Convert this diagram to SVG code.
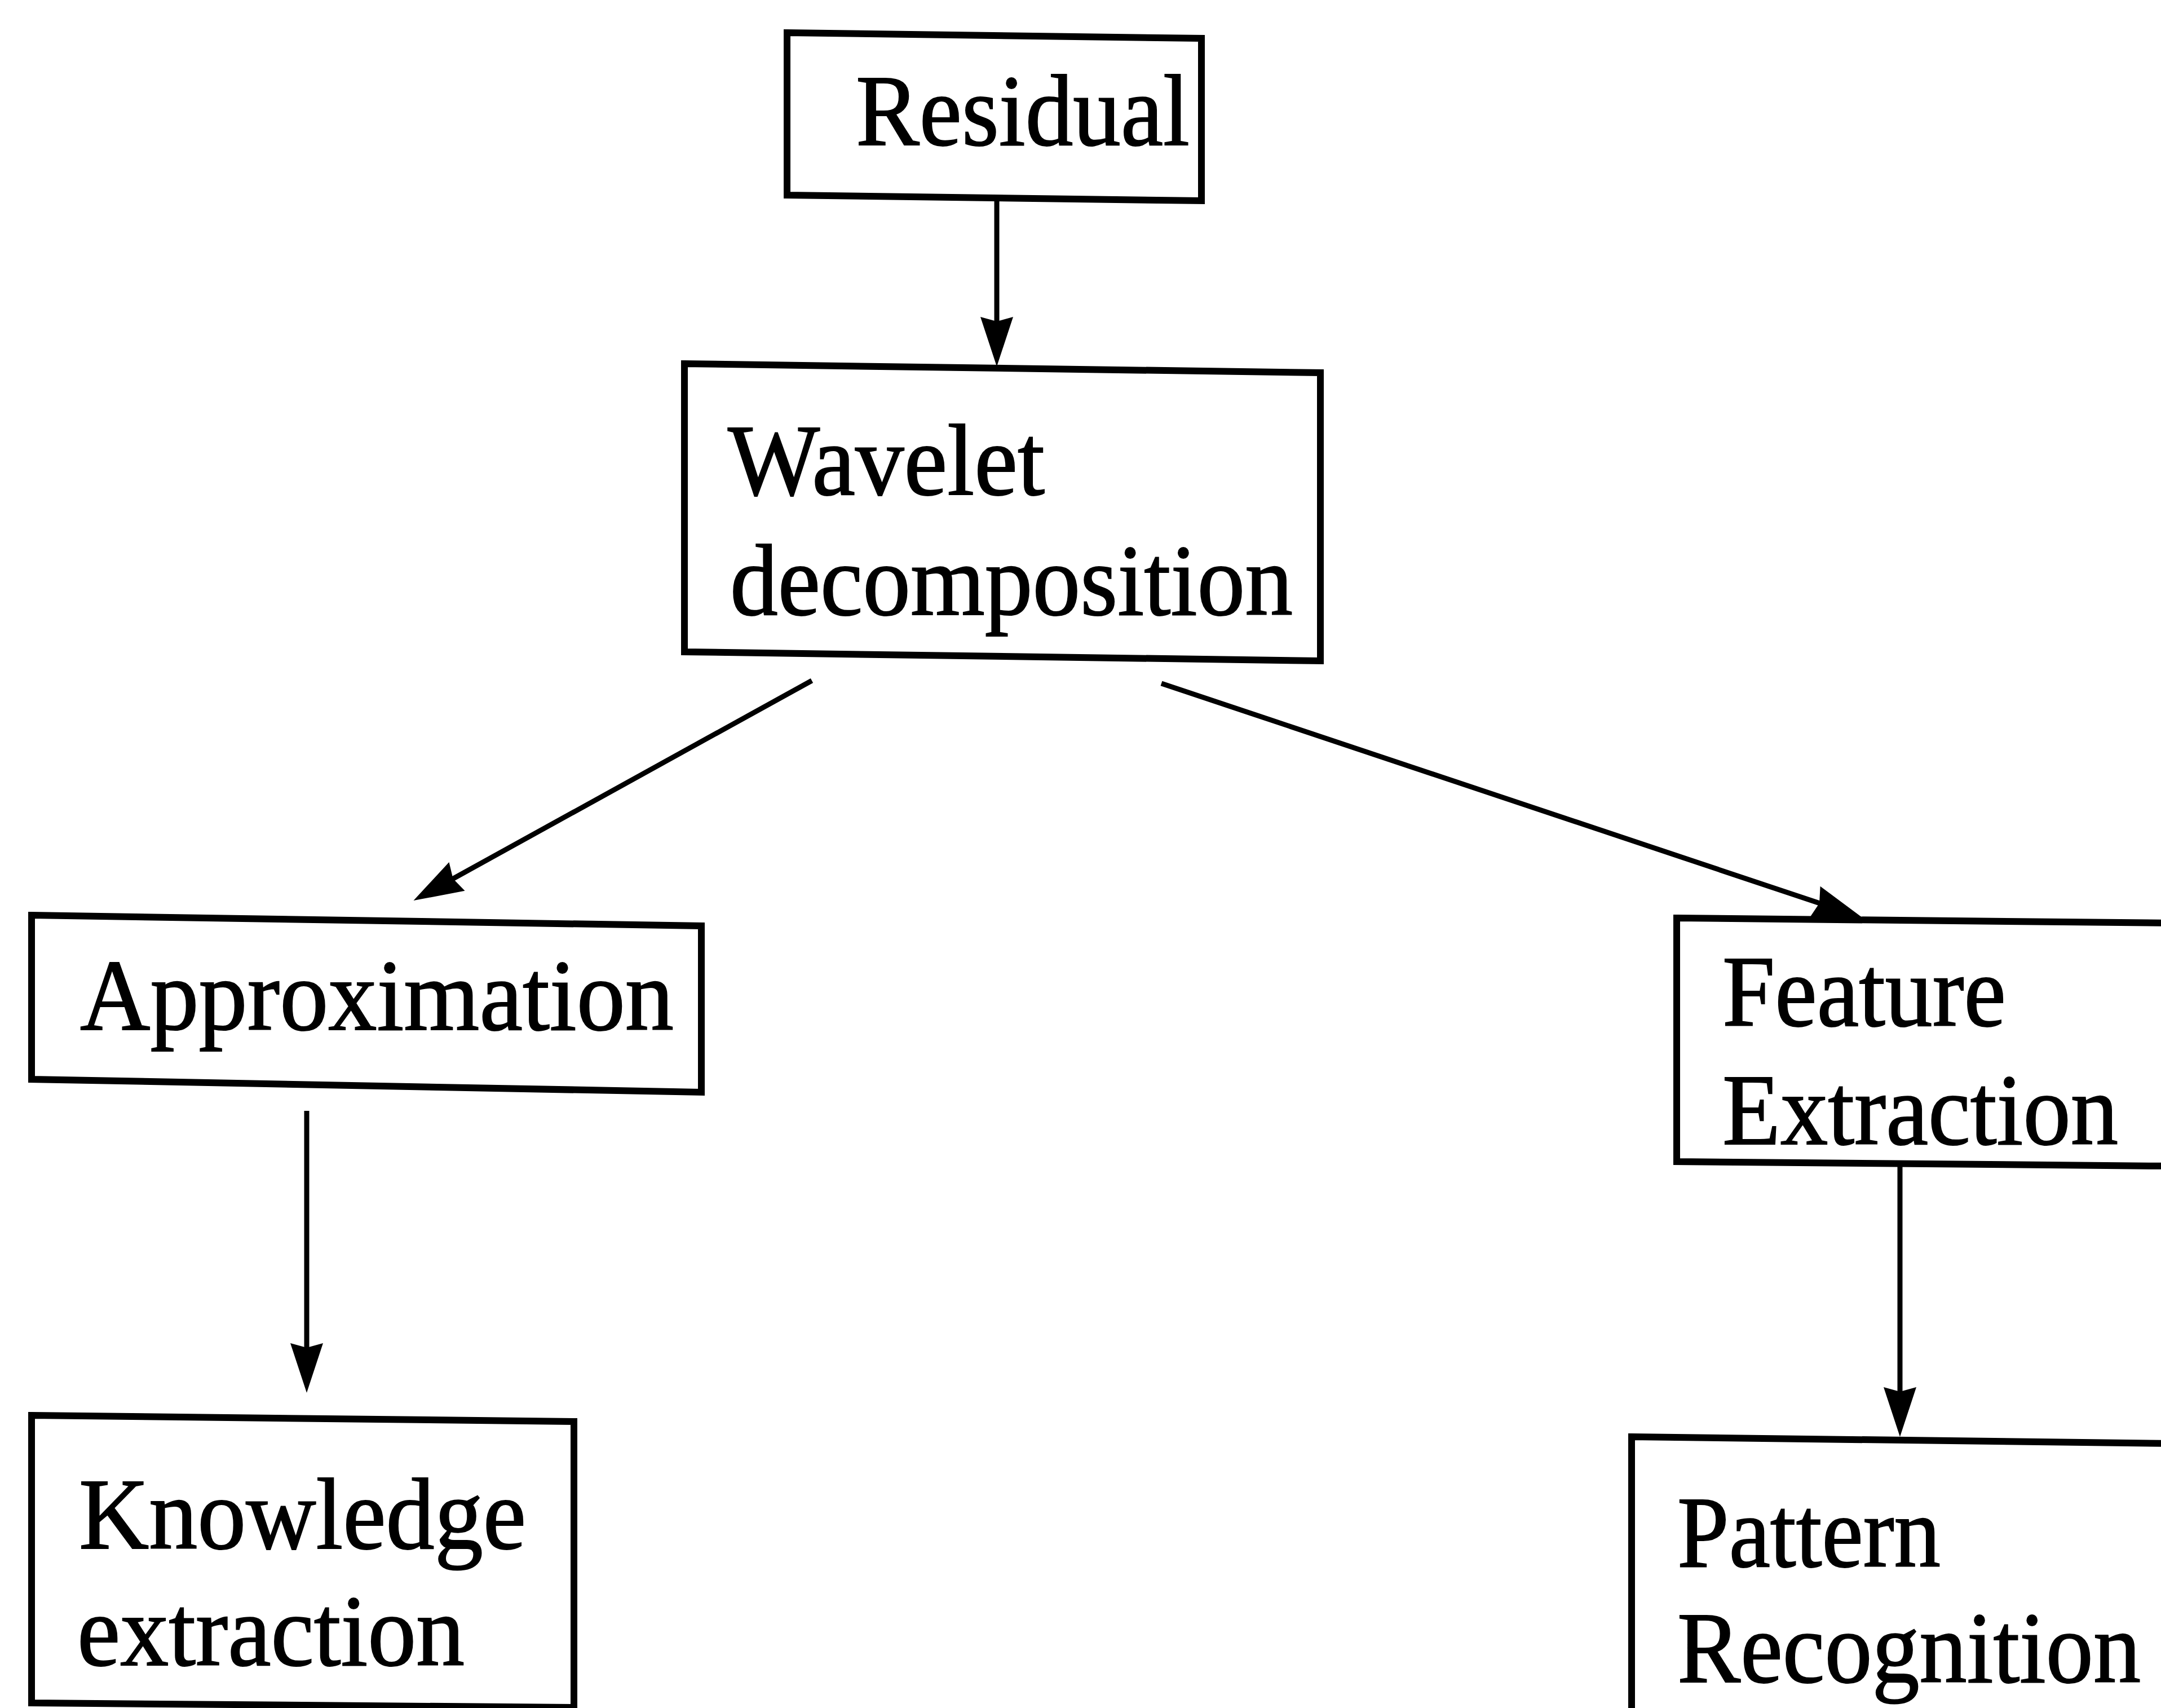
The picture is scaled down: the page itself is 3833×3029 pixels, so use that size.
<svg xmlns="http://www.w3.org/2000/svg" width="3833" height="3029" viewBox="0 0 3833 3029">
  <style>
    .box { fill: #ffffff; stroke: #000000; stroke-width: 12; stroke-linejoin: miter; }
    .lbl { font-family: "Liberation Serif", "Times New Roman", serif; font-size: 180px; fill: #000000; stroke: #000000; stroke-width: 2; }
    .edge { fill: none; stroke: #000000; stroke-width: 9; marker-end: url(#head); }
  </style>
  <defs>
    <!-- filled arrowhead; tip sits 60 units past the end of the shaft -->
    <marker id="head" markerUnits="userSpaceOnUse" orient="auto" refX="-60" refY="0"
            markerWidth="10" markerHeight="10" style="overflow:visible">
      <path d="M0,0 L-88,-29 L-80,0 L-88,29 Z" fill="#000000"/>
    </marker>
  </defs>

  <rect width="3833" height="3029" fill="#ffffff"/>

  <!-- connectors -->
  <g id="connectors">
    <path class="edge" d="M1768,356 L1768,590"/>
    <path class="edge" d="M1440,1207 L786,1568"/>
    <path class="edge" d="M2060,1212 L3246,1608"/>
    <path class="edge" d="M544,1970 L544,2410"/>
    <path class="edge" d="M3370,2063 L3370,2488"/>
  </g>

  <!-- nodes -->
  <g id="residual">
    <polygon class="box" points="1396,58 2131,68 2131,356 1396,346"/>
    <text class="lbl" x="1518" y="257" textLength="592" lengthAdjust="spacingAndGlyphs">Residual</text>
  </g>

  <g id="wavelet">
    <polygon class="box" points="1214,645 2342,661 2342,1172 1214,1156"/>
    <text class="lbl" x="1291" y="877" textLength="562" lengthAdjust="spacingAndGlyphs">Wavelet</text>
    <text class="lbl" x="1295" y="1090" textLength="998" lengthAdjust="spacingAndGlyphs">decomposition</text>
  </g>

  <g id="approximation">
    <polygon class="box" points="56,1623 1244,1642 1244,1937 56,1914"/>
    <text class="lbl" x="142" y="1826" textLength="1053" lengthAdjust="spacingAndGlyphs">Approximation</text>
  </g>

  <g id="feature">
    <polygon class="box" points="2974,1628 3850,1637 3850,2068 2974,2060"/>
    <text class="lbl" x="3055" y="1819" textLength="503" lengthAdjust="spacingAndGlyphs">Feature</text>
    <text class="lbl" x="3055" y="2029" textLength="702" lengthAdjust="spacingAndGlyphs">Extraction</text>
  </g>

  <g id="knowledge">
    <polygon class="box" points="56,2510 1018,2521 1018,3028 56,3020"/>
    <text class="lbl" x="140" y="2746" textLength="793" lengthAdjust="spacingAndGlyphs">Knowledge</text>
    <text class="lbl" x="137" y="2953" textLength="687" lengthAdjust="spacingAndGlyphs">extraction</text>
  </g>

  <g id="pattern">
    <polygon class="box" points="2894,2548 3850,2560 3850,3100 2894,3100"/>
    <text class="lbl" x="2975" y="2778" textLength="467" lengthAdjust="spacingAndGlyphs">Pattern</text>
    <text class="lbl" x="2975" y="2983" textLength="822" lengthAdjust="spacingAndGlyphs">Recognition</text>
  </g>
</svg>
